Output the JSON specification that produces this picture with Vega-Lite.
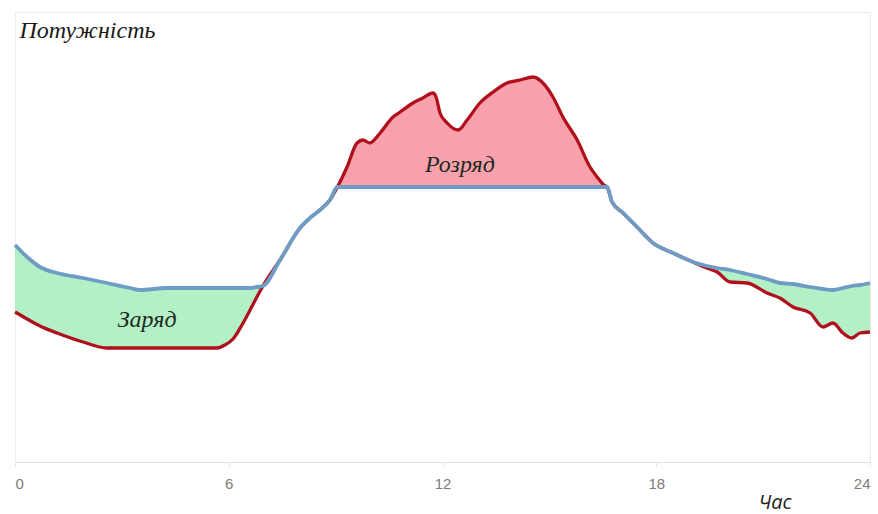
{
  "$schema": "https://vega.github.io/schema/vega-lite/v6.json",
  "width": 855,
  "height": 450,
  "autosize": {"type": "none"},
  "padding": {"left": 15, "top": 12, "right": 8, "bottom": 52},
  "background": "white",
  "config": {"view": {"stroke": "#ececec", "strokeWidth": 1}},
  "datasets": {
    "curve": [
      {"hour": 0, "load": 150, "level": 217},
      {"hour": 0.34, "load": 143, "level": 205},
      {"hour": 0.7, "load": 136, "level": 195},
      {"hour": 1.18, "load": 129, "level": 189},
      {"hour": 1.91, "load": 120, "level": 184},
      {"hour": 2.58, "load": 114, "level": 179},
      {"hour": 3.09, "load": 114, "level": 175},
      {"hour": 3.23, "load": 114, "level": 174},
      {"hour": 3.51, "load": 114, "level": 172},
      {"hour": 4.27, "load": 114, "level": 174},
      {"hour": 5.19, "load": 114, "level": 174},
      {"hour": 5.67, "load": 114, "level": 174},
      {"hour": 5.89, "load": 117, "level": 174},
      {"hour": 6.12, "load": 123, "level": 174},
      {"hour": 6.37, "load": 137, "level": 174},
      {"hour": 6.6, "load": 152, "level": 174},
      {"hour": 6.79, "load": 165, "level": 175},
      {"hour": 6.96, "load": 176, "level": 176},
      {"hour": 7.44, "load": 202, "level": 202},
      {"hour": 8.0, "load": 234, "level": 234},
      {"hour": 8.28, "load": 244, "level": 244},
      {"hour": 8.56, "load": 252, "level": 252},
      {"hour": 8.84, "load": 262, "level": 262},
      {"hour": 9.05, "load": 275, "level": 275},
      {"hour": 9.32, "load": 295, "level": 275},
      {"hour": 9.6, "load": 319, "level": 275},
      {"hour": 9.77, "load": 322, "level": 275},
      {"hour": 9.96, "load": 319, "level": 275},
      {"hour": 10.25, "load": 329, "level": 275},
      {"hour": 10.61, "load": 345, "level": 275},
      {"hour": 10.81, "load": 350, "level": 275},
      {"hour": 11.17, "load": 359, "level": 275},
      {"hour": 11.45, "load": 364, "level": 275},
      {"hour": 11.73, "load": 369, "level": 275},
      {"hour": 11.82, "load": 365, "level": 275},
      {"hour": 11.93, "load": 349, "level": 275},
      {"hour": 12.13, "load": 339, "level": 275},
      {"hour": 12.44, "load": 332, "level": 275},
      {"hour": 12.69, "load": 342, "level": 275},
      {"hour": 13.05, "load": 359, "level": 275},
      {"hour": 13.42, "load": 370, "level": 275},
      {"hour": 13.81, "load": 379, "level": 275},
      {"hour": 14.18, "load": 382, "level": 275},
      {"hour": 14.54, "load": 385, "level": 275},
      {"hour": 14.82, "load": 379, "level": 275},
      {"hour": 15.1, "load": 365, "level": 275},
      {"hour": 15.38, "load": 345, "level": 275},
      {"hour": 15.78, "load": 322, "level": 275},
      {"hour": 16.14, "load": 295, "level": 275},
      {"hour": 16.34, "load": 285, "level": 275},
      {"hour": 16.53, "load": 277, "level": 275},
      {"hour": 16.62, "load": 275, "level": 275},
      {"hour": 16.76, "load": 260, "level": 260},
      {"hour": 17.07, "load": 249, "level": 249},
      {"hour": 17.46, "load": 235, "level": 235},
      {"hour": 17.91, "load": 219, "level": 219},
      {"hour": 18.47, "load": 209, "level": 209},
      {"hour": 19.03, "load": 200, "level": 200},
      {"hour": 19.42, "load": 194, "level": 196},
      {"hour": 19.71, "load": 190, "level": 194},
      {"hour": 20.07, "load": 180, "level": 192},
      {"hour": 20.55, "load": 179, "level": 188},
      {"hour": 21.11, "load": 169, "level": 183},
      {"hour": 21.47, "load": 164, "level": 179},
      {"hour": 21.84, "load": 155, "level": 178},
      {"hour": 22.32, "load": 149, "level": 175},
      {"hour": 22.68, "load": 135, "level": 173},
      {"hour": 22.96, "load": 139, "level": 172},
      {"hour": 23.24, "load": 129, "level": 174},
      {"hour": 23.49, "load": 124, "level": 176},
      {"hour": 23.72, "load": 129, "level": 177},
      {"hour": 24.0, "load": 130, "level": 179}
    ],
    "labels": [
      {"hour": 3.71, "value": 135, "label": "Заряд"},
      {"hour": 12.49, "value": 290, "label": "Розряд"}
    ]
  },
  "layer": [
    {
      "data": {"name": "curve"},
      "transform": [{"filter": "datum.hour <= 9.05 || datum.hour >= 16.62"}],
      "mark": {"type": "area", "color": "#b3f0c6", "opacity": 1, "interpolate": "monotone"},
      "encoding": {
        "x": {"field": "hour", "type": "quantitative", "scale": {"domain": [0, 24], "nice": false},
          "axis": {"values": [0, 6, 12, 18, 24], "grid": false, "domainColor": "#e2e2e2", "tickColor": "#e2e2e2", "tickSize": 4,
            "labelColor": "#7c7c7c", "labelFont": "Liberation Sans", "labelFontSize": 15, "labelPadding": 10,
            "title": "Час", "titleFont": "Open Sans", "titleFontStyle": "italic", "titleFontWeight": "normal", "titleFontSize": 20,
            "titleColor": "#222", "titleAlign": "left", "titleBaseline": "alphabetic", "titleX": 743, "titleY": 46}},
        "y": {"field": "load", "type": "quantitative", "scale": {"domain": [0, 450], "nice": false},
          "axis": {"labels": false, "ticks": false, "domain": false, "grid": false,
            "title": "Потужність", "titleAngle": 0, "titleFont": "Liberation Serif", "titleFontStyle": "italic", "titleFontWeight": "normal", "titleFontSize": 24,
            "titleColor": "#1a1a1a", "titleAlign": "left", "titleBaseline": "alphabetic", "titleX": 4, "titleY": 25}},
        "y2": {"field": "level"}
      }
    },
    {
      "data": {"name": "curve"},
      "transform": [{"filter": "datum.hour >= 9.05 && datum.hour <= 16.62"}],
      "mark": {"type": "area", "color": "#f8a1ac", "opacity": 1, "interpolate": "monotone"},
      "encoding": {
        "x": {"field": "hour", "type": "quantitative"},
        "y": {"field": "load", "type": "quantitative"},
        "y2": {"field": "level"}
      }
    },
    {
      "mark": {"type": "rule", "color": "#7a7a7a", "strokeWidth": 1.2},
      "encoding": {"y": {"datum": 275, "type": "quantitative"}}
    },
    {
      "data": {"name": "curve"},
      "mark": {"type": "line", "color": "#b0101c", "strokeWidth": 3.3, "interpolate": "monotone"},
      "encoding": {
        "x": {"field": "hour", "type": "quantitative"},
        "y": {"field": "load", "type": "quantitative"}
      }
    },
    {
      "data": {"name": "curve"},
      "mark": {"type": "line", "color": "#6e9cc4", "strokeWidth": 3.8, "interpolate": "monotone"},
      "encoding": {
        "x": {"field": "hour", "type": "quantitative"},
        "y": {"field": "level", "type": "quantitative"}
      }
    },
    {
      "data": {"name": "labels"},
      "mark": {"type": "text", "font": "Liberation Serif", "fontStyle": "italic", "fontSize": 24, "color": "#1e2a22", "align": "center", "baseline": "alphabetic"},
      "encoding": {
        "x": {"field": "hour", "type": "quantitative"},
        "y": {"field": "value", "type": "quantitative"},
        "text": {"field": "label"}
      }
    }
  ]
}
